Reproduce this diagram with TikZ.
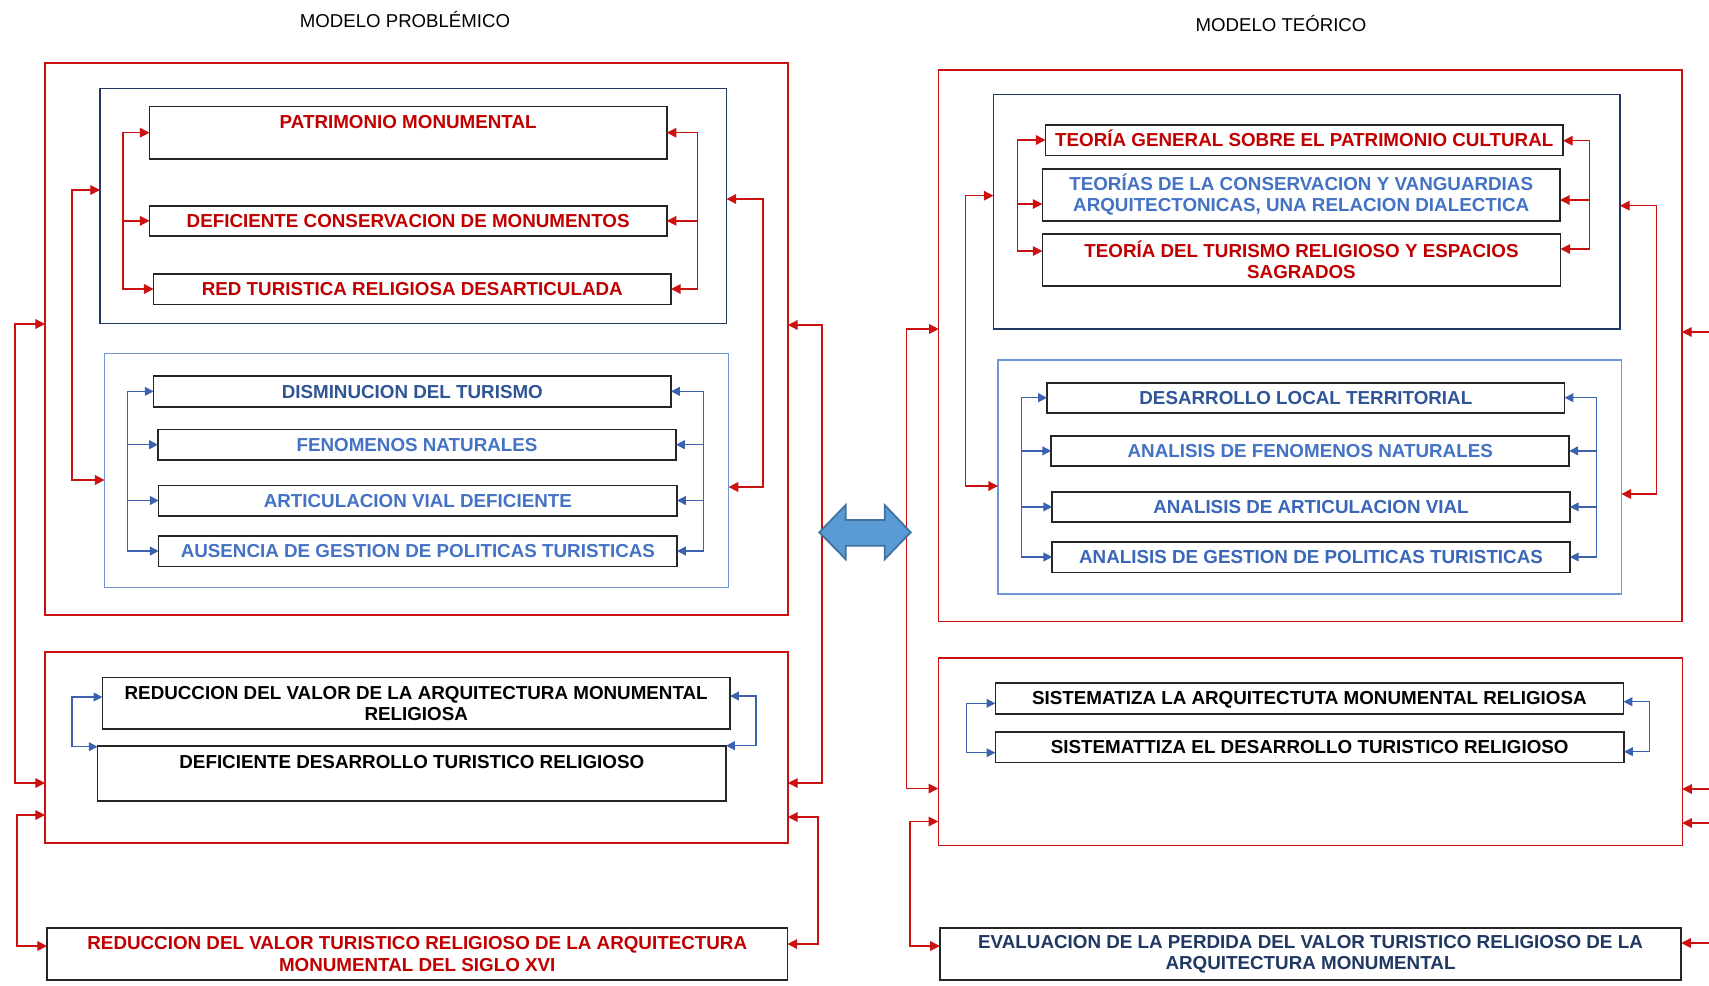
\documentclass[tikz,border=0pt]{standalone}
\usepackage{fontspec}
\setmainfont{Liberation Sans}
\usetikzlibrary{arrows.meta}
\definecolor{tred}{HTML}{C00000}
\definecolor{tdblue}{HTML}{2F5597}
\definecolor{tlblue}{HTML}{4472C4}
\definecolor{tmblue}{HTML}{3A66B8}
\definecolor{tnavy}{HTML}{203864}
\definecolor{lred}{HTML}{CC1111}
\definecolor{navyb}{HTML}{1F3864}
\definecolor{lblueb}{HTML}{6F97D8}
\definecolor{bconn}{HTML}{3A62AE}
\definecolor{boxc}{HTML}{262626}
\definecolor{arrfill}{HTML}{5B9BD5}
\definecolor{arrdraw}{HTML}{41719C}
\begin{document}
\begin{tikzpicture}[x=0.02cm,y=-0.02cm,
  xwh/.style 2 args={minimum width=#1*0.02cm, minimum height=#2*0.02cm},
  xbox/.style={draw=boxc, line width=0.9pt, inner sep=0pt, outer sep=0pt, align=center, font=\bfseries\fontsize{10.7}{12}\selectfont},
  xsl/.style={text height=7.7pt, text depth=0pt},
  redbox/.style={draw=lred, line width=0.8pt, inner sep=0pt, outer sep=0pt},
  navybox/.style={draw=navyb, line width=0.8pt, inner sep=0pt, outer sep=0pt},
  lbluebox/.style={draw=lblueb, line width=0.8pt, inner sep=0pt, outer sep=0pt},
  rr/.style={draw=lred, line width=0.75pt, {Triangle[length=5.5pt,width=5.5pt]}-{Triangle[length=5.5pt,width=5.5pt]}},
  r1/.style={draw=lred, line width=0.75pt, -{Triangle[length=5.5pt,width=5.5pt]}},
  bb/.style={draw=bconn, line width=0.75pt, {Triangle[length=5pt,width=5pt]}-{Triangle[length=5pt,width=5pt]}},
  b1/.style={draw=bconn, line width=0.75pt, -{Triangle[length=5pt,width=5pt]}},
  ttl/.style={font=\fontsize{10.6}{12}\selectfont, inner sep=0pt}
]
\fill[white] (0,0) rectangle (1709,985);
\useasboundingbox (0,0) rectangle (1709,985);

% titles
\node[ttl] (t1) at (405,20) {MODELO PROBLÉMICO};
\node[ttl] (t2) at (1281,24) {MODELO TEÓRICO};

% ---------- left containers ----------
\node[redbox, xwh={743}{552}] (A) at (416.5,339) {};
\node[navybox, xwh={626.5}{235}] (blue1) at (413.25,205.8) {};
\node[lbluebox, xwh={624}{234.4}] (blue2) at (416.6,470.5) {};
\node[redbox, xwh={743}{191}] (B) at (416.5,747.5) {};

% ---------- left boxes ----------
\node[xbox, xwh={517.3}{52}, text height=12.35pt, text depth=17.2pt, text=tred] (P1) at (408.15,132.7) {PATRIMONIO MONUMENTAL};
\node[xbox, xsl, xwh={517.3}{30.3}, text=tred] (P2) at (408.15,220.85) {DEFICIENTE CONSERVACION DE MONUMENTOS};
\node[xbox, xsl, xwh={517.4}{30.6}, text=tred] (P3) at (412.3,289) {RED TURISTICA RELIGIOSA DESARTICULADA};
\node[xbox, xsl, xwh={517.4}{30.7}, text=tdblue] (P4) at (412.3,391.35) {DISMINUCION DEL TURISMO};
\node[xbox, xsl, xwh={518}{30.7}, text=tlblue] (P5) at (417,444.65) {FENOMENOS NATURALES};
\node[xbox, xsl, xwh={518.3}{30.4}, text=tlblue] (P6) at (417.85,500.5) {ARTICULACION VIAL DEFICIENTE};
\node[xbox, xsl, xwh={518.3}{30.6}, text=tlblue] (P7) at (417.85,551) {AUSENCIA DE GESTION DE POLITICAS TURISTICAS};
\node[xbox, xwh={627.6}{51.7}, text=black] (P8) at (416.2,703.15) {REDUCCION DEL VALOR DE LA ARQUITECTURA MONUMENTAL\\RELIGIOSA};
\node[xbox, xwh={628.4}{54.7}, text height=12.7pt, text depth=18.4pt, text=black] (P9) at (411.8,773.35) {DEFICIENTE DESARROLLO TURISTICO RELIGIOSO};
\node[xbox, xwh={740.5}{52}, text=tred] (P10) at (417.25,954) {REDUCCION DEL VALOR TURISTICO RELIGIOSO DE LA ARQUITECTURA\\MONUMENTAL DEL SIGLO XVI};

% ---------- right containers ----------
\node[redbox, xwh={743.3}{551.7}] (C) at (1310.35,345.85) {};
\node[navybox, xwh={626.6}{234.7}] (blue3) at (1306.7,211.65) {};
\node[lbluebox, xwh={623.4}{234}] (blue4) at (1309.7,477) {};
\node[redbox, xwh={744}{187.3}] (D) at (1310.2,751.65) {};

% ---------- right boxes ----------
\node[xbox, xsl, xwh={517.5}{30.3}, text=tred] (T1) at (1304.25,140.15) {TEORÍA GENERAL SOBRE EL PATRIMONIO CULTURAL};
\node[xbox, xwh={517.6}{52.3}, text=tlblue] (T2) at (1301.2,194.85) {TEORÍAS DE LA CONSERVACION Y VANGUARDIAS\\ARQUITECTONICAS, UNA RELACION DIALECTICA};
\node[xbox, xwh={518.1}{52}, text=tred] (T3) at (1301.45,259.7) {TEORÍA DEL TURISMO RELIGIOSO Y ESPACIOS\\SAGRADOS};
\node[xbox, xsl, xwh={517.6}{30}, text=tdblue] (T4) at (1305.8,397.7) {DESARROLLO LOCAL TERRITORIAL};
\node[xbox, xsl, xwh={518}{30.3}, text=tlblue] (T5) at (1310.2,450.85) {ANALISIS DE FENOMENOS NATURALES};
\node[xbox, xsl, xwh={517.6}{30.3}, text=tmblue] (T6) at (1311,506.85) {ANALISIS DE ARTICULACION VIAL};
\node[xbox, xsl, xwh={517.6}{30.6}, text=tmblue] (T7) at (1311,557) {ANALISIS DE GESTION DE POLITICAS TURISTICAS};
\node[xbox, xsl, xwh={628.2}{31}, text=black] (T8) at (1309.4,698.2) {SISTEMATIZA LA ARQUITECTUTA MONUMENTAL RELIGIOSA};
\node[xbox, xsl, xwh={628.7}{30.6}, text=black] (T9) at (1309.65,747) {SISTEMATTIZA EL DESARROLLO TURISTICO RELIGIOSO};
\node[xbox, xwh={741.4}{52}, text=tnavy] (T10) at (1310.5,954) {EVALUACION DE LA PERDIDA DEL VALOR TURISTICO RELIGIOSO DE LA\\ARQUITECTURA MONUMENTAL};

% ---------- left connectors ----------
\coordinate (k1) at (123,0);
\draw[rr] (P1.west) -- (P1.west -| k1) -- (P3.west -| k1) -- (P3.west);
\draw[r1] (P2.west -| k1) -- (P2.west);
\coordinate (k2) at (697.5,0);
\draw[rr] (P1.east) -- (P1.east -| k2) -- (P3.east -| k2) -- (P3.east);
\draw[r1] (P2.east -| k2) -- (P2.east);

\coordinate (k3a) at (72,190); \coordinate (k3b) at (72,480);
\draw[rr] (k3a -| blue1.west) -- (k3a) -- (k3b) -- (k3b -| blue2.west);
\coordinate (k4a) at (763,199); \coordinate (k4b) at (763,487);
\draw[rr] (k4a -| blue1.east) -- (k4a) -- (k4b) -- (k4b -| blue2.east);

\coordinate (k5a) at (15,324); \coordinate (k5b) at (15,783);
\draw[rr] (k5a -| A.west) -- (k5a) -- (k5b) -- (k5b -| B.west);
\coordinate (k6a) at (17,815); \coordinate (k6b) at (17,946);
\draw[rr] (k6a -| B.west) -- (k6a) -- (k6b) -- (k6b -| P10.west);
\coordinate (k7a) at (822,325); \coordinate (k7b) at (822,783);
\draw[rr] (k7a -| A.east) -- (k7a) -- (k7b) -- (k7b -| B.east);
\coordinate (k8a) at (818,817); \coordinate (k8b) at (818,944);
\draw[rr] (k8a -| B.east) -- (k8a) -- (k8b) -- (k8b -| P10.east);

\coordinate (k9) at (127.6,0);
\draw[bb] (P4.west) -- (P4.west -| k9) -- (P7.west -| k9) -- (P7.west);
\draw[b1] (P5.west -| k9) -- (P5.west);
\draw[b1] (P6.west -| k9) -- (P6.west);
\coordinate (k10) at (703.6,0);
\draw[bb] (P4.east) -- (P4.east -| k10) -- (P7.east -| k10) -- (P7.east);
\draw[b1] (P5.east -| k10) -- (P5.east);
\draw[b1] (P6.east -| k10) -- (P6.east);

\coordinate (k11a) at (72,697); \coordinate (k11b) at (72,746.7);
\draw[bb] (k11a -| P8.west) -- (k11a) -- (k11b) -- (k11b -| P9.west);
\coordinate (k12a) at (756,696); \coordinate (k12b) at (756,745.7);
\draw[bb] (k12a -| P8.east) -- (k12a) -- (k12b) -- (k12b -| P9.east);

% ---------- right connectors ----------
\coordinate (k13a) at (1017.6,140); \coordinate (k13b) at (1017.6,204); \coordinate (k13c) at (1017.6,251);
\draw[rr] (k13a -| T1.west) -- (k13a) -- (k13c) -- (k13c -| T3.west);
\draw[r1] (k13b) -- (k13b -| T2.west);
\coordinate (k14a) at (1589.4,140.7); \coordinate (k14b) at (1589.4,200); \coordinate (k14c) at (1589.4,249);
\draw[rr] (k14a -| T1.east) -- (k14a) -- (k14c) -- (k14c -| T3.east);
\draw[r1] (k14b) -- (k14b -| T2.east);

\coordinate (k15a) at (965.5,195.7); \coordinate (k15b) at (965.5,486);
\draw[rr] (k15a -| blue3.west) -- (k15a) -- (k15b) -- (k15b -| blue4.west);
\coordinate (k16a) at (1656.5,205.7); \coordinate (k16b) at (1656.5,494);
\draw[rr] (k16a -| blue3.east) -- (k16a) -- (k16b) -- (k16b -| blue4.east);

\coordinate (k17a) at (906.5,329); \coordinate (k17b) at (906.5,788.5);
\draw[rr] (k17a -| C.west) -- (k17a) -- (k17b) -- (k17b -| D.west);
\coordinate (k18a) at (910,821.5); \coordinate (k18b) at (910,946);
\draw[rr] (k18a -| D.west) -- (k18a) -- (k18b) -- (k18b -| T10.west);

\coordinate (e1) at (1709,332); \coordinate (e2) at (1709,789);
\coordinate (e3) at (1709,823); \coordinate (e4) at (1709,943);
\draw[r1] (e1) -- (e1 -| C.east);
\draw[r1] (e2) -- (e2 -| D.east);
\draw[r1] (e3) -- (e3 -| D.east);
\draw[r1] (e4) -- (e4 -| T10.east);

\coordinate (k20) at (1021.3,0);
\draw[bb] (T4.west) -- (T4.west -| k20) -- (T7.west -| k20) -- (T7.west);
\draw[b1] (T5.west -| k20) -- (T5.west);
\draw[b1] (T6.west -| k20) -- (T6.west);
\coordinate (k21) at (1596.6,0);
\draw[bb] (T4.east) -- (T4.east -| k21) -- (T7.east -| k21) -- (T7.east);
\draw[b1] (T5.east -| k21) -- (T5.east);
\draw[b1] (T6.east -| k21) -- (T6.east);

\coordinate (k22a) at (966.2,703.3); \coordinate (k22b) at (966.2,752.7);
\draw[bb] (k22a -| T8.west) -- (k22a) -- (k22b) -- (k22b -| T9.west);
\coordinate (k23a) at (1649.4,701.7); \coordinate (k23b) at (1649.4,751.7);
\draw[bb] (k23a -| T8.east) -- (k23a) -- (k23b) -- (k23b -| T9.east);

% ---------- double arrow ----------
\filldraw[fill=arrfill, draw=arrdraw, line width=1pt, line join=miter]
  (819.3,532.3) -- (845.7,505) -- (845.7,520) -- (884.7,520) -- (884.7,505)
  -- (910.7,532.3) -- (884.7,559.3) -- (884.7,545.7) -- (845.7,545.7)
  -- (845.7,559.3) -- cycle;
\end{tikzpicture}
\end{document}
